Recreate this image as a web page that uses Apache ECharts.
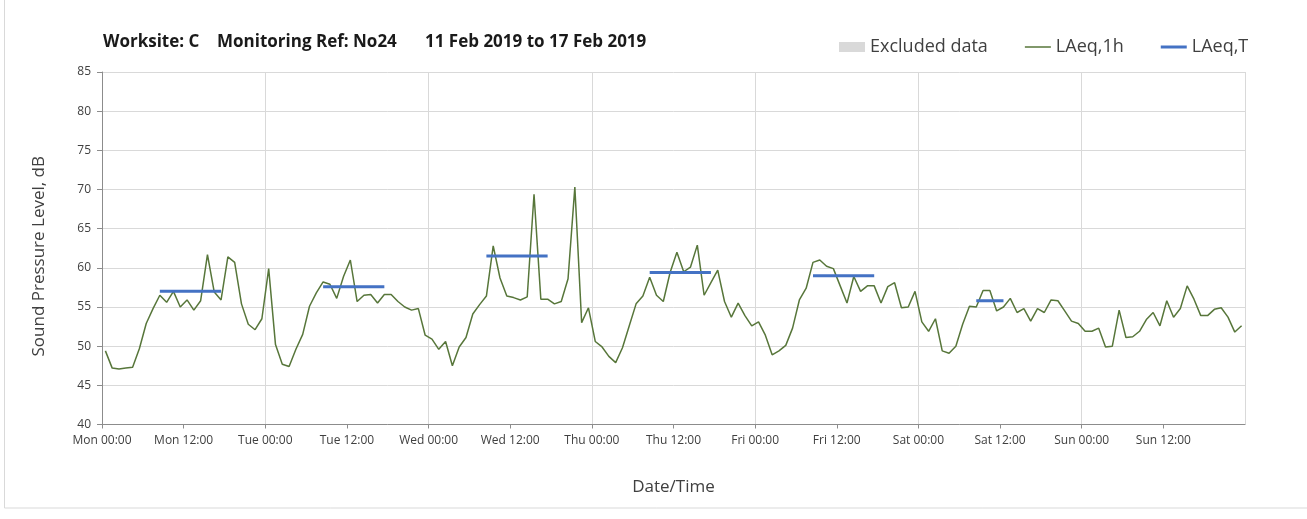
<!DOCTYPE html>
<html>
<head>
<meta charset="utf-8">
<script src="https://cdn.jsdelivr.net/npm/echarts@6/dist/echarts.min.js"></script>
<style>
html,body{margin:0;padding:0;background:#fff;}
#chart{width:1307px;height:519px;}
</style>
</head>
<body>
<div id="chart"></div>
<script>
// ---- data ----
var tickLabels = ['Mon 00:00','Mon 12:00','Tue 00:00','Tue 12:00','Wed 00:00','Wed 12:00','Thu 00:00','Thu 12:00','Fri 00:00','Fri 12:00','Sat 00:00','Sat 12:00','Sun 00:00','Sun 12:00'];
// hourly LAeq,1h values, Mon 00:00 .. Sun 23:00 (168 hours)
var laeq1hMon = [49.4,47.2,47.1,47.2,47.3,49.7,52.9,54.8,56.5,55.6,57.0,55.0,55.9,54.6,55.8,61.7,56.9,55.9,61.4,60.7,55.4,52.8,52.1,53.5];
var laeq1hTue = [59.9,50.2,47.7,47.4,49.6,51.5,55.1,56.8,58.2,57.9,56.1,58.9,61.0,55.7,56.5,56.6,55.5,56.6,56.6,55.7,55.0,54.6,54.8,51.4];
var laeq1hWed = [50.9,49.6,50.6,47.5,49.9,51.1,54.1,55.3,56.4,62.8,58.7,56.4,56.2,55.9,56.3,69.4,56.0,56.0,55.4,55.7,58.6,70.3,53.0,54.9];
var laeq1hThu = [50.6,49.9,48.7,47.9,49.8,52.6,55.4,56.4,58.8,56.5,55.7,59.4,62.0,59.5,60.1,62.9,56.5,58.1,59.7,55.7,53.7,55.5,53.9,52.6];
var laeq1hFri = [53.1,51.4,48.9,49.4,50.1,52.3,55.9,57.4,60.7,61.0,60.2,59.9,57.7,55.5,58.9,57.0,57.7,57.7,55.5,57.6,58.1,54.9,55.0,57.0];
var laeq1hSat = [53.1,51.9,53.5,49.4,49.1,50.0,52.8,55.1,55.0,57.1,57.1,54.5,55.0,56.1,54.3,54.8,53.2,54.8,54.3,55.9,55.8,54.5,53.2,52.9];
var laeq1hSun = [51.9,51.9,52.3,49.9,50.0,54.6,51.1,51.2,51.9,53.4,54.3,52.6,55.8,53.7,54.8,57.7,56.0,53.9,53.9,54.7,54.9,53.7,51.8,52.6];
// LAeq,T periods: first and last hour index of each period, and level
var periodFirstHour = [8, 32, 56, 80, 104, 128];
var periodLastHour  = [17, 41, 65, 89, 113, 132];
var periodLevel     = [57.0, 57.6, 61.5, 59.4, 59.0, 55.8];

// ---- build series data ----
var hourly = [].concat(laeq1hMon, laeq1hTue, laeq1hWed, laeq1hThu, laeq1hFri, laeq1hSat, laeq1hSun);
var lineData = hourly.map(function(v, i){ return [i + 0.5, v]; });
var tData = [];
for (var p = 0; p < periodLevel.length; p++) {
  tData.push([periodFirstHour[p] + 0.5, periodLevel[p]]);
  tData.push([periodLastHour[p] + 0.5, periodLevel[p]]);
  tData.push([periodLastHour[p] + 1, null]);
}

var FONT = 'Open Sans';
var TITLE_STYLE = {fontFamily:FONT, fontWeight:'bold', fontSize:17, color:'#1a1a1a'};
var chart = echarts.init(document.getElementById('chart'), null, {renderer:'canvas'});
chart.setOption({
  animation: false,
  backgroundColor: '#fff',
  title: [
    {text:'Worksite: C', left:98, top:29, textStyle:TITLE_STYLE},
    {text:'Monitoring Ref: No24', left:212, top:29, textStyle:TITLE_STYLE},
    {text:'11 Feb 2019 to 17 Feb 2019', left:420, top:29, textStyle:TITLE_STYLE}
  ],
  legend: {
    left: 834, top: 33,
    itemWidth: 26, itemHeight: 10, itemGap: 37,
    textStyle: {fontFamily:FONT, fontSize:18, color:'#404040'},
    data: [
      {name:'Excluded data', icon:'rect'},
      {name:'LAeq,1h', icon:'path://M0,0 M0,10 M0,4.25 L26,4.25 L26,5.75 L0,5.75 Z'},
      {name:'LAeq,T', icon:'path://M0,0 M0,10 M0,3.5 L26,3.5 L26,6.5 L0,6.5 Z'}
    ]
  },
  graphic: [{
    type:'rect', silent:true, z:-10,
    shape:{x:4.5, y:-2, width:1310, height:510},
    style:{fill:'none', stroke:'#d9d9d9', lineWidth:1}
  }],
  grid: {left:102, right:62, top:72, bottom:94.5, containLabel:false},
  xAxis: [{
    type:'value', min:0, max:168, interval:12,
    name:'Date/Time', nameLocation:'middle', nameGap:54,
    nameTextStyle:{fontFamily:FONT, fontSize:17, color:'#404040'},
    axisLine:{show:true, lineStyle:{color:'#8c8c8c', width:1}},
    axisTick:{show:true, length:4, lineStyle:{color:'#8c8c8c'}},
    axisLabel:{fontFamily:FONT, fontSize:12, color:'#404040', margin:10,
      showMaxLabel:false,
      formatter:function(v){ var i = Math.round(v/12); return tickLabels[i] || ''; }},
    splitLine:{show:false}
  },{
    type:'value', min:0, max:168, interval:24, position:'bottom',
    axisLine:{show:false}, axisTick:{show:false}, axisLabel:{show:false},
    splitLine:{show:true, lineStyle:{color:'#d9d9d9', width:1}}
  }],
  yAxis: {
    type:'value', min:40, max:85, interval:5,
    name:'Sound Pressure Level, dB', nameLocation:'middle', nameGap:54,
    nameTextStyle:{fontFamily:FONT, fontSize:17, color:'#404040', padding:[0,16,0,0]},
    axisLine:{show:true, lineStyle:{color:'#8c8c8c', width:1}},
    axisTick:{show:true, length:5, lineStyle:{color:'#8c8c8c'}},
    axisLabel:{fontFamily:FONT, fontSize:12, color:'#404040', margin:11},
    splitLine:{show:true, lineStyle:{color:'#d9d9d9', width:1}}
  },
  series: [
    {name:'Excluded data', type:'bar', data:[], itemStyle:{color:'#d9d9d9'}},
    {name:'LAeq,1h', type:'line', data:lineData, symbol:'none', showSymbol:false,
      lineStyle:{color:'#57763A', width:1.5}, itemStyle:{color:'#57763A'}, z:3},
    {name:'LAeq,T', type:'line', data:tData, symbol:'none', showSymbol:false, connectNulls:false,
      lineStyle:{color:'#4472C4', width:3}, itemStyle:{color:'#4472C4'}, z:4}
  ]
});
</script>
</body>
</html>
